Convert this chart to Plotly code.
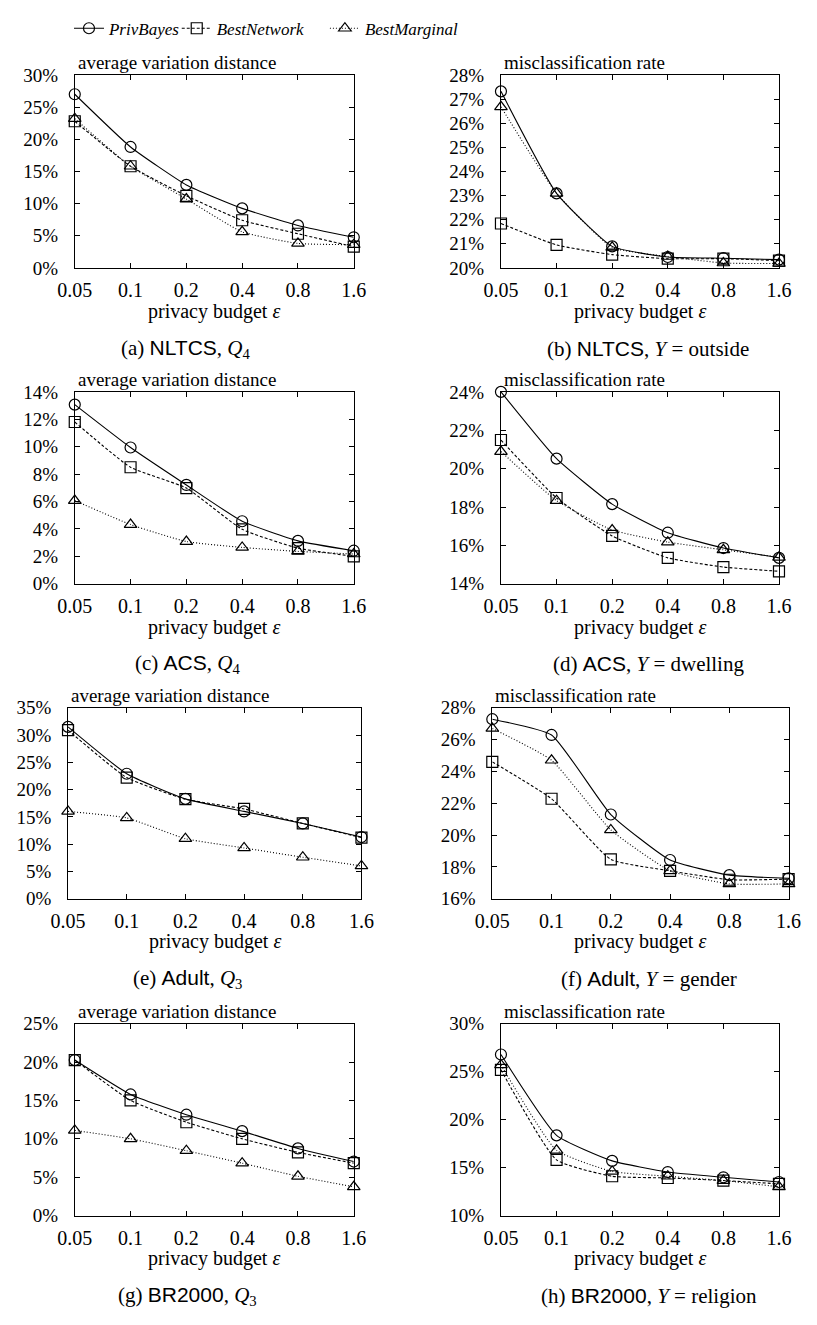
import plotly.graph_objects as go

eps = [0.05, 0.1, 0.2, 0.4, 0.8, 1.6]
eps_labels = ["0.05", "0.1", "0.2", "0.4", "0.8", "1.6"]
series_names = ["PrivBayes", "BestNetwork", "BestMarginal"]

# (a) NLTCS, Q4 - average variation distance (%)
a_priv = [27.0, 18.8, 12.9, 9.25, 6.6, 4.75]
a_net = [22.8, 15.8, 11.2, 7.4, 5.3, 3.3]
a_marg = [23.2, 15.8, 10.7, 5.6, 3.8, 3.6]
# (b) NLTCS, Y = outside - misclassification rate (%)
b_priv = [27.32, 23.09, 20.89, 20.45, 20.4, 20.34]
b_net = [21.84, 20.95, 20.55, 20.38, 20.38, 20.3]
b_marg = [26.68, 23.09, 20.85, 20.47, 20.2, 20.18]
# (c) ACS, Q4
c_priv = [13.07, 9.94, 7.21, 4.56, 3.13, 2.41]
c_net = [11.8, 8.5, 6.98, 3.97, 2.6, 2.0]
c_marg = [6.07, 4.32, 3.08, 2.65, 2.36, 2.17]
# (d) ACS, Y = dwelling
d_priv = [24.0, 20.52, 18.15, 16.66, 15.86, 15.35]
d_net = [21.49, 18.47, 16.49, 15.35, 14.87, 14.65]
d_marg = [20.89, 18.33, 16.8, 16.17, 15.77, 15.38]
# (e) Adult, Q3
e_priv = [31.5, 22.9, 18.3, 16.0, 13.8, 11.3]
e_net = [30.9, 22.2, 18.25, 16.45, 13.8, 11.2]
e_marg = [16.0, 14.8, 11.0, 9.3, 7.6, 6.0]
# (f) Adult, Y = gender
f_priv = [27.28, 26.29, 21.29, 18.43, 17.48, 17.28]
f_net = [24.6, 22.28, 18.47, 17.75, 17.19, 17.23]
f_marg = [26.7, 24.7, 20.32, 17.75, 16.93, 16.93]
# (g) BR2000, Q3
g_priv = [20.26, 15.78, 13.14, 11.0, 8.75, 7.04]
g_net = [20.26, 15.0, 12.16, 10.0, 8.23, 6.83]
g_marg = [11.1, 10.0, 8.45, 6.83, 5.12, 3.75]
# (h) BR2000, Y = religion
h_priv = [26.79, 18.36, 15.7, 14.54, 13.99, 13.5]
h_net = [25.19, 15.8, 14.1, 13.92, 13.65, 13.31]
h_marg = [25.7, 16.8, 14.6, 14.1, 13.65, 13.0]

panel_titles = ["average variation distance", "misclassification rate"] * 4
SANS = "font-family:Liberation Sans"
captions = [
    f"(a) <span style='{SANS}'>NLTCS</span>, <i>Q</i><sub>4</sub>",
    f"(b) <span style='{SANS}'>NLTCS</span>, <i>Y</i> = outside",
    f"(c) <span style='{SANS}'>ACS</span>, <i>Q</i><sub>4</sub>",
    f"(d) <span style='{SANS}'>ACS</span>, <i>Y</i> = dwelling",
    f"(e) <span style='{SANS}'>Adult</span>, <i>Q</i><sub>3</sub>",
    f"(f) <span style='{SANS}'>Adult</span>, <i>Y</i> = gender",
    f"(g) <span style='{SANS}'>BR2000</span>, <i>Q</i><sub>3</sub>",
    f"(h) <span style='{SANS}'>BR2000</span>, <i>Y</i> = religion",
]
y_ranges = [[0, 30], [20, 28], [0, 14], [14, 24], [0, 35], [16, 28], [0, 25], [10, 30]]
y_dticks = [5, 1, 2, 2, 5, 2, 5, 5]
panel_data = [
    (a_priv, a_net, a_marg), (b_priv, b_net, b_marg),
    (c_priv, c_net, c_marg), (d_priv, d_net, d_marg),
    (e_priv, e_net, e_marg), (f_priv, f_net, f_marg),
    (g_priv, g_net, g_marg), (h_priv, h_net, h_marg),
]

W, H = 817, 1325
# plot-area pixel boxes (left, right, top, bottom)
boxes = [
    (59, 349, 66, 262), (502, 791, 66, 262),
    (59, 349, 388, 583), (502, 791, 388, 583),
    (52, 357, 709, 903), (493, 801, 709, 903),
    (59, 349, 1030, 1225), (502, 791, 1030, 1225),
]
caption_x = [175, 655, 176, 655, 176, 656, 176, 656]
XLABEL_OFF = 44
CAPTION_OFF = 82

FONT = "Liberation Serif, Times New Roman, serif"
styles = [
    dict(symbol="circle-open", dash="solid"),
    dict(symbol="square-open", dash="3px,2px"),
    dict(symbol="triangle-up-open", dash="1px,2px"),
]
legend_ids = ["legend", "legend2", "legend3"]
legend_x = [53, 165, 319]

fig = go.Figure()
annotations = []
layout_axes = {}
for i in range(8):
    l, r, t, b = boxes[i]
    xa = "x" if i == 0 else f"x{i+1}"
    ya = "y" if i == 0 else f"y{i+1}"
    xkey = "xaxis" if i == 0 else f"xaxis{i+1}"
    ykey = "yaxis" if i == 0 else f"yaxis{i+1}"
    for s in range(3):
        fig.add_trace(go.Scatter(
            x=eps, y=panel_data[i][s], xaxis=xa, yaxis=ya,
            mode="lines+markers", name=f"<i>{series_names[s]}</i>",
            showlegend=(i == 0), legend=legend_ids[s], cliponaxis=False,
            line=dict(color="black", width=1.1, dash=styles[s]["dash"],
                      shape="spline", smoothing=0.45),
            marker=dict(symbol=styles[s]["symbol"], size=11, color="black",
                        line=dict(color="black", width=1.2)),
        ))
    layout_axes[xkey] = dict(
        domain=[l / W, r / W], anchor=ya, type="log",
        range=[-1.30103, 0.20412], tickvals=eps, ticktext=eps_labels,
        showline=True, mirror="ticks", linecolor="black", linewidth=1,
        ticks="inside", ticklen=5, tickcolor="black", showgrid=False,
        zeroline=False, ticklabelstandoff=4,
        tickfont=dict(family=FONT, size=20, color="black"),
    )
    layout_axes[ykey] = dict(
        domain=[1 - b / H, 1 - t / H], anchor=xa,
        range=y_ranges[i], dtick=y_dticks[i], tick0=0, ticksuffix="%",
        showline=True, mirror="ticks", linecolor="black", linewidth=1,
        ticks="inside", ticklen=5, tickcolor="black", showgrid=False,
        zeroline=False, ticklabelstandoff=12,
        tickfont=dict(family=FONT, size=19, color="black"),
    )
    annotations.append(dict(
        text=panel_titles[i], xref="paper", yref="paper",
        x=(l + 1) / W, y=1 - t / H, xanchor="left", yanchor="bottom",
        showarrow=False, font=dict(family=FONT, size=19, color="black"),
    ))
    annotations.append(dict(
        text="privacy budget <i>ε</i>", xref="paper", yref="paper",
        x=(l + r) / 2 / W, y=1 - (b + XLABEL_OFF) / H, xanchor="center", yanchor="middle",
        showarrow=False, font=dict(family=FONT, size=20, color="black"),
    ))
    annotations.append(dict(
        text=captions[i], xref="paper", yref="paper",
        x=caption_x[i] / W, y=1 - (b + CAPTION_OFF) / H, xanchor="center", yanchor="middle",
        showarrow=False, font=dict(family=FONT, size=21, color="black"),
    ))

legend_common = dict(orientation="h", y=1 - 19 / H, xanchor="left", yanchor="middle",
                     font=dict(family=FONT, size=17, color="black"),
                     bgcolor="rgba(0,0,0,0)", itemwidth=30)
fig.update_layout(
    width=W, height=H, margin=dict(l=0, r=0, t=0, b=0),
    paper_bgcolor="white", plot_bgcolor="white",
    showlegend=True,
    legend=dict(x=legend_x[0] / W, **legend_common),
    legend2=dict(x=legend_x[1] / W, **legend_common),
    legend3=dict(x=legend_x[2] / W, **legend_common),
    annotations=annotations,
    **layout_axes,
)

fig.write_html("out.html")
